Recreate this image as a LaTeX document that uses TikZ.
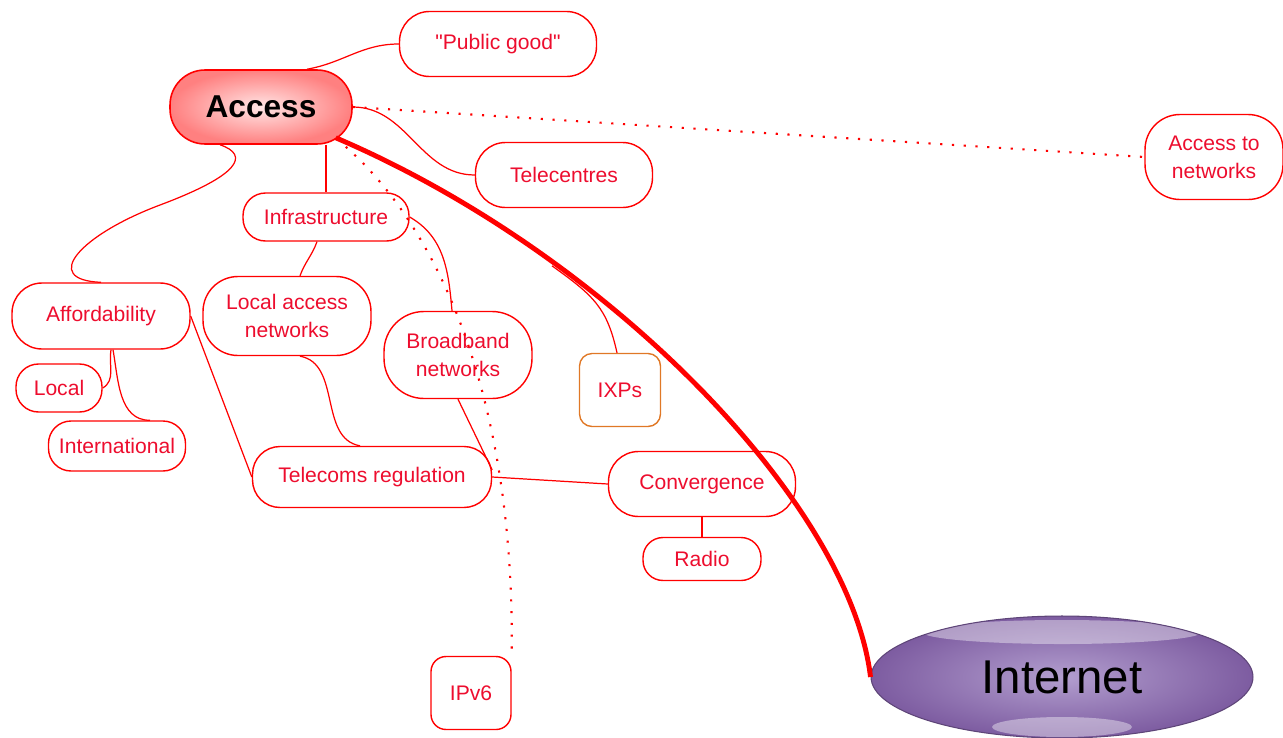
\documentclass[tikz,border=0pt]{standalone}
\usepackage{fontspec}
\setmainfont{Liberation Sans}
\usepackage{tikz}
\usetikzlibrary{shapes.geometric}
\definecolor{mred}{rgb}{1, 0, 0}
\definecolor{mtext}{rgb}{0.93, 0.05, 0.18}
\definecolor{morange}{rgb}{0.88, 0.47, 0.15}
\definecolor{mpurple}{rgb}{0.49, 0.36, 0.63}
\definecolor{mlilac}{rgb}{0.70, 0.62, 0.81}

\begin{document}
\begin{tikzpicture}[x=0.02cm,y=-0.02cm,
  topic node/.style={rectangle,draw=mred,line width=0.8pt,text=mtext,
    font=\fontsize{12}{16}\selectfont,align=center,inner sep=0pt},
  main node/.style={rectangle,draw=mred,line width=0.9pt,inner color=red!10,outer color=red!50,
    font=\fontsize{18}{20}\selectfont\bfseries,inner sep=0pt},
  net node/.style={ellipse,draw=mpurple!75!black,line width=0.6pt,inner color=mlilac,outer color=mpurple,
    font=\fontsize{27}{30}\selectfont,inner sep=0pt,
    path picture={
      \fill[white,opacity=0.4] ([yshift=0.9cm]path picture bounding box.center) ellipse (2.8cm and 0.24cm);
      \fill[white,opacity=0.4] ([yshift=-1cm]path picture bounding box.center) ellipse (1.4cm and 0.2cm);}},
  link/.style={mred,line width=0.7pt},
  far link/.style={mred,line width=1.2pt,dash pattern=on 1.2pt off 5.5pt},
  main link/.style={mred,line width=2.8pt}]
  \useasboundingbox (0,0) rectangle (1283,737);

  \node[main node,minimum width=3.64cm,minimum height=1.48cm,rounded corners=0.7cm] (access) at (261,107) {Access};
  \node[topic node,minimum width=3.94cm,minimum height=1.3cm,rounded corners=0.6cm] (public) at (498,44) {\textquotedbl Public good\textquotedbl};
  \node[topic node,minimum width=2.76cm,minimum height=1.7cm,rounded corners=0.7cm] (accnet) at (1214,157) {Access to\\networks};
  \node[topic node,minimum width=3.54cm,minimum height=1.3cm,rounded corners=0.6cm] (telecentres) at (564,175) {Telecentres};
  \node[topic node,minimum width=3.32cm,minimum height=0.96cm,rounded corners=0.45cm] (infra) at (326,217) {Infrastructure};
  \node[topic node,minimum width=3.56cm,minimum height=1.32cm,rounded corners=0.6cm] (afford) at (101,316) {Affordability};
  \node[topic node,minimum width=3.36cm,minimum height=1.58cm,rounded corners=0.7cm] (lan) at (287,316) {Local access\\networks};
  \node[topic node,minimum width=2.96cm,minimum height=1.74cm,rounded corners=0.8cm] (broadband) at (458,355) {Broadband\\networks};
  \node[topic node,draw=morange,minimum width=1.62cm,minimum height=1.46cm,rounded corners=0.25cm] (ixps) at (620,390) {IXPs};
  \node[topic node,minimum width=1.72cm,minimum height=0.96cm,rounded corners=0.45cm] (local) at (59,388) {Local};
  \node[topic node,minimum width=2.74cm,minimum height=1.0cm,rounded corners=0.45cm] (intl) at (117,446) {International};
  \node[topic node,minimum width=4.78cm,minimum height=1.22cm,rounded corners=0.55cm] (telecoms) at (372,477) {Telecoms regulation};
  \node[topic node,minimum width=3.74cm,minimum height=1.3cm,rounded corners=0.6cm] (convergence) at (702,484) {Convergence};
  \node[topic node,minimum width=2.36cm,minimum height=0.86cm,rounded corners=0.4cm] (radio) at (702,559) {Radio};
  \node[topic node,minimum width=1.6cm,minimum height=1.46cm,rounded corners=0.3cm] (ipv6) at (471,693) {IPv6};
  \node[net node,minimum width=7.64cm,minimum height=2.44cm] (internet) at (1062,677) {Internet};

  % links between topics
  \path[link]
    ([xshift=0.92cm]access.north) edge[out=10,in=180] (public.west)
    (access.east) edge[out=0,in=180] (telecentres.west)
    (access.south -| infra.north) edge (infra.north)
    (infra.east) edge[out=-30,in=95] ([xshift=-0.12cm]broadband.north)
    ([xshift=-0.18cm]infra.south) edge[out=-110,in=70] ([xshift=0.26cm]lan.north)
    ([xshift=0.26cm]lan.south) edge[out=-10,in=170] ([xshift=-0.24cm]telecoms.north)
    (afford.east) edge (telecoms.west)
    ([xshift=0.2cm]afford.south) edge[out=-100,in=30] (local.east)
    ([xshift=0.24cm]afford.south) edge[out=-80,in=180] ([xshift=0.66cm]intl.north)
    (broadband.south) edge ([yshift=0.14cm]telecoms.east)
    (telecoms.east) edge (convergence.west)
    (convergence.south) edge (radio.north);
  \draw[link] ([xshift=-0.82cm]access.south) .. controls (250,155) and (240,175) .. (160,205)
    .. controls (80,235) and (40,280) .. (afford.north);

  % main link to the internet
  \draw[main link] ([xshift=-0.34cm,yshift=0.14cm]access.south east) .. controls (610,255) and (850,505) .. (internet.west)
    coordinate[pos=0.28] (tap);
  \draw[link] ([xshift=-0.04cm,yshift=-0.06cm]tap) .. controls +(42,30) and +(-10,-45) .. ([xshift=-0.06cm]ixps.north);

  % dotted links
  \draw[far link] (access.east) -- (accnet.west);
  \draw[far link] ([xshift=-0.14cm,yshift=-0.04cm]access.south east) .. controls (440,230) and (515,400) .. (ipv6.north east);
\end{tikzpicture}
\end{document}
